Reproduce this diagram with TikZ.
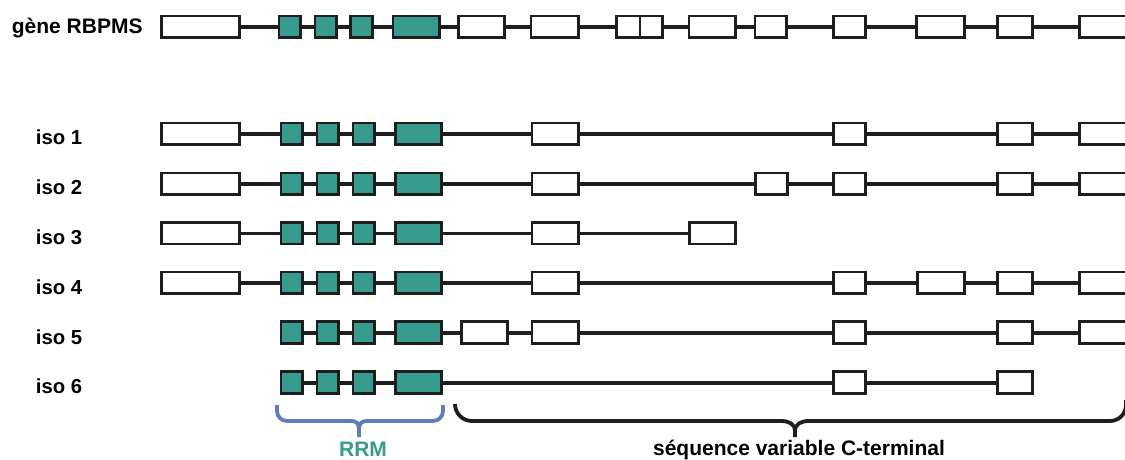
\documentclass[tikz,border=0pt]{standalone}
\usepackage{fontspec}
\setmainfont{Liberation Sans}
\definecolor{ink}{HTML}{1E1E1E}
\definecolor{rrmfill}{HTML}{369B8C}
\definecolor{rrmtext}{HTML}{3A9A8B}
\definecolor{bracecol}{HTML}{5E7DB9}
\tikzset{
  exon/.style={draw=ink, line width=2.8pt, fill=white, rectangle, inner sep=0pt, minimum height=21.5pt},
  rrm/.style={exon, fill=rrmfill},
  intron/.style={draw=ink, line width=4pt},
  thinintron/.style={draw=ink, line width=3pt},
  lbl/.style={font=\bfseries\fontsize{21}{24}\selectfont, inner sep=0pt, anchor=base west},
  isolbl/.style={font=\bfseries\fontsize{20.3}{24}\selectfont, inner sep=0pt, anchor=base west},
  rrmbrace/.style={draw=bracecol, line width=3.8pt},
  ctbrace/.style={draw=ink, line width=3.8pt},
}
% #1 style, #2 name, #3 left outer x, #4 right outer x, #5 centre y
\newcommand\mkexon[5][exon]{\node[#1, minimum width={#4-#3-2.8}] (#2) at ({(#3+#4)/2},#5) {};}
\begin{document}
\begin{tikzpicture}[x=1pt,y=-1pt]
\useasboundingbox (0,0) rectangle (1125,460);
\fill[white] (0,0) rectangle (1125,460);
\clip (0,0) rectangle (1125,460);

% ---------- gene ----------
\def\ty{26.7}
\node[lbl] (gene) at (11.7,33.5) {gène RBPMS};
\mkexon{t1}{160}{241}{\ty}
\mkexon[rrm]{tg1}{277.5}{301.5}{\ty}
\mkexon[rrm]{tg2}{313.5}{337.5}{\ty}
\mkexon[rrm]{tg3}{349}{373.5}{\ty}
\mkexon[rrm]{tg4}{391.5}{441}{\ty}
\mkexon{t2}{457}{506}{\ty}
\mkexon{t3}{529.5}{579.5}{\ty}
\mkexon{t4a}{615}{641.4}{\ty}
\mkexon{t4b}{638.6}{664}{\ty}
\mkexon{t5}{687.5}{736.7}{\ty}
\mkexon{t6}{753.5}{788}{\ty}
\mkexon{t7}{831.7}{866.7}{\ty}
\mkexon{t8}{915}{965.7}{\ty}
\mkexon{t9}{995.7}{1034}{\ty}
\mkexon{t10}{1078.3}{1140}{\ty}
\foreach \a/\b in {t1/tg1,tg1/tg2,tg2/tg3,tg3/tg4,tg4/t2,t2/t3,t3/t4a,t4b/t5,t5/t6,t6/t7,t7/t8,t8/t9,t9/t10}
  \draw[intron] (\a.east) -- (\b.west);

% ---------- isoforms ----------
\def\ya{133.7}\def\yb{183.7}\def\yc{233.3}\def\yd{282.8}\def\ye{332.5}\def\yf{382.5}

\foreach \r/\y in {a/\ya,b/\yb,c/\yc,d/\yd,e/\ye,f/\yf}{
  \mkexon[rrm]{\r g1}{279.5}{303.5}{\y}
  \mkexon[rrm]{\r g2}{315.5}{339.5}{\y}
  \mkexon[rrm]{\r g3}{351.5}{375.5}{\y}
  \mkexon[rrm]{\r g4}{394}{443}{\y}
}

% iso 1
\node[isolbl] (l1) at (35.7,{\ya+10.5}) {iso 1};
\mkexon{aA}{160}{241}{\ya}
\mkexon{aB3}{530.5}{580}{\ya}
\mkexon{aB7}{832}{867}{\ya}
\mkexon{aB9}{996}{1034}{\ya}
\mkexon{aB10}{1078}{1140}{\ya}
\foreach \a/\b in {aA/ag1,ag1/ag2,ag2/ag3,ag3/ag4,ag4/aB3,aB3/aB7,aB7/aB9,aB9/aB10}
  \draw[intron] (\a.east) -- (\b.west);

% iso 2
\node[isolbl] (l2) at (35.7,{\yb+11}) {iso 2};
\mkexon{bA}{160}{241}{\yb}
\mkexon{bB3}{530.5}{580}{\yb}
\mkexon{bB6}{754}{789}{\yb}
\mkexon{bB7}{832}{867}{\yb}
\mkexon{bB9}{996}{1034}{\yb}
\mkexon{bB10}{1078}{1140}{\yb}
\foreach \a/\b in {bA/bg1,bg1/bg2,bg2/bg3,bg3/bg4,bg4/bB3,bB3/bB6,bB6/bB7,bB7/bB9,bB9/bB10}
  \draw[intron] (\a.east) -- (\b.west);

% iso 3
\node[isolbl] (l3) at (35.7,{\yc+11.5}) {iso 3};
\mkexon{cA}{160}{241}{\yc}
\mkexon{cB3}{530.5}{580}{\yc}
\mkexon{cB5}{688}{737}{\yc}
\foreach \a/\b in {cA/cg1,cg1/cg2,cg2/cg3,cg3/cg4,cg4/cB3,cB3/cB5}
  \draw[thinintron] (\a.east) -- (\b.west);

% iso 4
\node[isolbl] (l4) at (35.7,{\yd+11.5}) {iso 4};
\mkexon{dA}{160}{241}{\yd}
\mkexon{dB3}{530.5}{580}{\yd}
\mkexon{dB7}{832}{867}{\yd}
\mkexon{dB8}{915.7}{966}{\yd}
\mkexon{dB9}{996}{1034}{\yd}
\mkexon{dB10}{1078}{1140}{\yd}
\foreach \a/\b in {dA/dg1,dg1/dg2,dg2/dg3,dg3/dg4,dg4/dB3,dB3/dB7,dB7/dB8,dB8/dB9,dB9/dB10}
  \draw[intron] (\a.east) -- (\b.west);

% iso 5
\node[isolbl] (l5) at (35.7,{\ye+11.5}) {iso 5};
\mkexon{eB2}{460}{509}{\ye}
\mkexon{eB3}{530.5}{580}{\ye}
\mkexon{eB7}{832}{867}{\ye}
\mkexon{eB9}{996}{1034}{\ye}
\mkexon{eB10}{1078}{1140}{\ye}
\foreach \a/\b in {eg1/eg2,eg2/eg3,eg3/eg4,eg4/eB2,eB2/eB3,eB3/eB7,eB7/eB9,eB9/eB10}
  \draw[intron] (\a.east) -- (\b.west);

% iso 6
\node[isolbl] (l6) at (35.7,{\yf+10.5}) {iso 6};
\mkexon{fB7}{832}{867}{\yf}
\mkexon{fB9}{996}{1034}{\yf}
\foreach \a/\b in {fg1/fg2,fg2/fg3,fg3/fg4,fg4/fB7,fB7/fB9}
  \draw[intron] (\a.east) -- (\b.west);

% ---------- braces ----------
\draw[rrmbrace] (277,405) -- (277,411) arc[start angle=180,end angle=90,radius=10]
  -- (351,421) .. controls (356,421) and (359,423) .. (359,429) -- (359,437);
\draw[rrmbrace] (443,405) -- (443,411) arc[start angle=0,end angle=90,radius=10]
  -- (367,421) .. controls (362,421) and (359,423) .. (359,429);
\node[lbl, anchor=base, text=rrmtext] (rrmlbl) at (363,456.5) {RRM};

\draw[ctbrace] (455,404) arc[start angle=180,end angle=90,radius=17]
  -- (781,421) .. controls (789,421) and (795,424) .. (795,431) -- (795,437);
\draw[ctbrace] (1126,400) -- (1126,405) arc[start angle=0,end angle=90,radius=16]
  -- (809,421) .. controls (801,421) and (795,424) .. (795,431);
\node[lbl, anchor=base] (ctlbl) at (799,455.3) {séquence variable C-terminal};
\end{tikzpicture}
\end{document}
